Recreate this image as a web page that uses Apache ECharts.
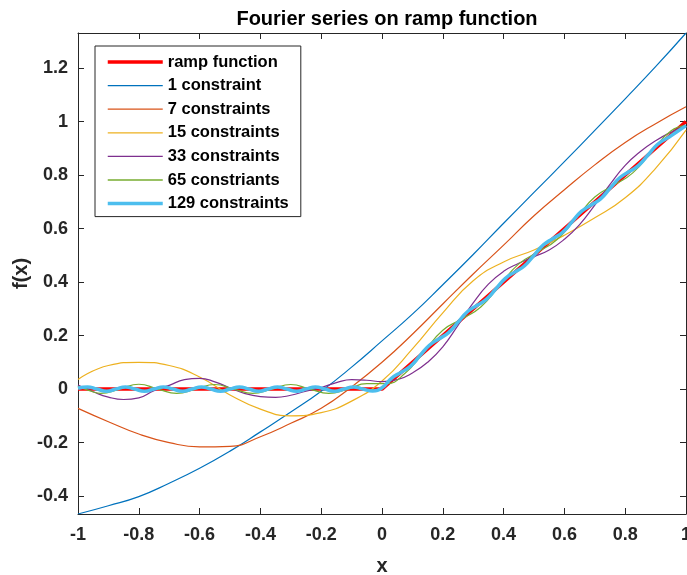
<!DOCTYPE html>
<html>
<head>
<meta charset="utf-8">
<script src="https://cdn.jsdelivr.net/npm/echarts@6/dist/echarts.min.js"></script>
<style>
html,body{margin:0;padding:0;background:#fff;}
#chart{width:687px;height:575px;}
</style>
</head>
<body>
<div id="chart"></div>
<script>
// ---- data ----
const seriesNames = ['ramp function','1 constraint','7 constraints','15 constraints','33 constraints','65 constriants','129 constraints'];

const xTicks = ['-1','-0.8','-0.6','-0.4','-0.2','0','0.2','0.4','0.6','0.8','1'];
const yTicks = ['-0.4','-0.2','0','0.2','0.4','0.6','0.8','1','1.2'];

const rampX = [-1, 0, 1];
const rampY = [0, 0, 1];

const grid10X = [-1,-0.9,-0.8,-0.7,-0.6,-0.5,-0.4,-0.3,-0.2,-0.1,0,0.1,0.2,0.3,0.4,0.5,0.6,0.7,0.8,0.9,1];
const c1Y  = [-0.467,-0.436,-0.402,-0.352,-0.296,-0.232,-0.160,-0.086,-0.008,0.082,0.18,0.28,0.39,0.503,0.62,0.735,0.85,0.967,1.085,1.205,1.331];
const c7Y  = [-0.072,-0.122,-0.168,-0.200,-0.216,-0.214,-0.178,-0.128,-0.072,0.008,0.1,0.205,0.318,0.43,0.538,0.648,0.745,0.838,0.922,0.992,1.055];
const c15Y = [0.036,0.088,0.1,0.088,0.045,-0.022,-0.075,-0.1,-0.088,-0.045,0.03,0.15,0.285,0.405,0.475,0.52,0.575,0.64,0.715,0.825,0.968];

const c33X = [-1,-0.95,-0.9,-0.85,-0.8,-0.75,-0.7,-0.65,-0.6,-0.55,-0.5,-0.45,-0.4,-0.35,-0.3,-0.25,-0.2,-0.15,-0.1,-0.05,0,0.05,0.1,0.15,0.2,0.25,0.3,0.35,0.4,0.45,0.5,0.55,0.6,0.65,0.7,0.75,0.8,0.85,0.9,0.95,1];
const c33Y = [0.015,-0.01,-0.03,-0.039,-0.033,-0.006,0.014,0.035,0.04,0.027,0.004,-0.017,-0.028,-0.031,-0.023,-0.008,0.006,0.024,0.035,0.033,0.028,0.035,0.06,0.1,0.158,0.238,0.322,0.392,0.44,0.47,0.495,0.52,0.56,0.615,0.688,0.765,0.836,0.888,0.928,0.96,0.985];

const c65X = [-1,-0.9625,-0.925,-0.8625,-0.8,-0.7375,-0.675,-0.6125,-0.55,-0.4875,-0.425,-0.3625,-0.3,-0.2375,-0.175,-0.1125,-0.05,0.0125,0.075,0.1375,0.2,0.2625,0.325,0.3875,0.45,0.5125,0.575,0.6375,0.7,0.7625,0.825,0.8875,0.95,1];
const c65Y = [0.01,-0.006,-0.016,0,0.018,0,-0.016,0,0.017,0,-0.016,0,0.017,0,-0.016,0,0.02,0.02,0.058,0.138,0.22,0.262,0.307,0.388,0.468,0.512,0.558,0.638,0.718,0.762,0.808,0.888,0.965,0.985];

const c129X = [-1,-0.969,-0.938,-0.906,-0.875,-0.844,-0.813,-0.781,-0.75,-0.719,-0.688,-0.656,-0.625,-0.594,-0.563,-0.531,-0.5,-0.469,-0.438,-0.406,-0.375,-0.344,-0.313,-0.281,-0.25,-0.219,-0.188,-0.156,-0.125,-0.094,-0.063,-0.031,0,0.031,0.063,0.094,0.125,0.156,0.188,0.219,0.25,0.281,0.313,0.344,0.375,0.406,0.438,0.469,0.5,0.531,0.563,0.594,0.625,0.656,0.688,0.719,0.75,0.781,0.813,0.844,0.875,0.906,0.938,0.969,1];
const c129Y = [0.003,0.008,0,-0.008,0,0.008,0,-0.008,0,0.008,0,-0.008,0,0.008,0,-0.008,0,0.008,0,-0.008,0,0.008,0,-0.008,0,0.008,0,-0.008,0,0.008,0,-0.007,0.005,0.04,0.063,0.086,0.125,0.164,0.188,0.211,0.25,0.289,0.313,0.336,0.375,0.414,0.438,0.461,0.5,0.539,0.563,0.586,0.625,0.664,0.688,0.711,0.75,0.789,0.813,0.836,0.875,0.914,0.938,0.961,0.985];

// ---- chart ----
const colors = ['#FF0000','#0072BD','#D95319','#EDB120','#7E2F8E','#77AC30','#4DBEEE'];
const widths = [3.5,1.2,1.2,1.2,1.2,1.2,3.5];
const xsList = [rampX, grid10X, grid10X, grid10X, c33X, c65X, c129X];
const ysList = [rampY, c1Y, c7Y, c15Y, c33Y, c65Y, c129Y];

const FONT = '"Liberation Sans", Arial, Helvetica, sans-serif';
const AX = '#262626';
const fmt = v => String(Math.round(v * 10) / 10);

function pairs(xs, ys){ return xs.map((x, i) => [x, ys[i]]); }

const series = seriesNames.map((name, i) => ({
  name: name,
  type: 'line',
  data: pairs(xsList[i], ysList[i]),
  smooth: i === 0 ? false : 0.5,
  symbol: 'none',
  showSymbol: false,
  lineStyle: { color: colors[i], width: widths[i] },
  itemStyle: { color: colors[i] },
  z: 2 + i,
  animation: false
}));

const legendData = seriesNames.map((name, i) => ({
  name: name,
  lineStyle: { color: colors[i], width: i === 0 || i === 6 ? 3.5 : 1.3 },
  itemStyle: { opacity: 0, borderWidth: 0 }
}));

const baseX = {
  type: 'value', min: -1, max: 1, interval: 0.2,
  axisLine: { show: true, onZero: false, lineStyle: { color: AX, width: 1 } },
  axisTick: { show: true, inside: true, length: 6, lineStyle: { color: AX, width: 1 } },
  splitLine: { show: false }
};
const baseY = {
  type: 'value', min: -0.467, max: 1.331, splitNumber: 9, minInterval: 0.2, maxInterval: 0.2,
  axisLine: { show: true, onZero: false, lineStyle: { color: AX, width: 1 } },
  axisTick: { show: true, inside: true, length: 6, lineStyle: { color: AX, width: 1 } },
  splitLine: { show: false }
};

const chart = echarts.init(document.getElementById('chart'), null, { renderer: 'canvas' });
chart.setOption({
  backgroundColor: '#fff',
  animation: false,
  color: colors,
  title: {
    text: 'Fourier series on ramp function',
    left: 382, top: 4, textAlign: 'center',
    textStyle: { fontFamily: FONT, fontSize: 20, fontWeight: 'bold', color: '#000' }
  },
  grid: { left: 78, top: 33, width: 608, height: 481, containLabel: false, outerBoundsMode: 'none' },
  legend: {
    data: legendData,
    orient: 'vertical', left: 95, top: 46,
    itemWidth: 55, itemHeight: 14, itemGap: 5.6,
    padding: [7, 12, 4, 11],
    backgroundColor: '#fff', borderColor: AX, borderWidth: 1, borderRadius: 0,
    selectedMode: false,
    itemStyle: { opacity: 0, borderWidth: 0 },
    textStyle: { fontFamily: FONT, fontSize: 16.5, fontWeight: 'bold', color: '#000', lineHeight: 18 }
  },
  xAxis: [
    Object.assign({}, baseX, {
      position: 'bottom',
      axisLabel: { show: true, margin: 12, color: AX, fontFamily: FONT, fontSize: 18, fontWeight: 'bold', formatter: fmt },
      name: 'x', nameLocation: 'middle', nameGap: 42, nameMoveOverlap: false,
      nameTextStyle: { fontFamily: FONT, fontSize: 20, fontWeight: 'bold', color: AX }
    }),
    Object.assign({}, baseX, { position: 'top', axisLabel: { show: false } })
  ],
  yAxis: [
    Object.assign({}, baseY, {
      position: 'left',
      axisLabel: { show: true, margin: 10, color: AX, fontFamily: FONT, fontSize: 18, fontWeight: 'bold', formatter: fmt, showMinLabel: false, showMaxLabel: false },
      name: 'f(x)', nameLocation: 'middle', nameGap: 47, nameMoveOverlap: false,
      nameTextStyle: { fontFamily: FONT, fontSize: 20, fontWeight: 'bold', color: AX }
    }),
    Object.assign({}, baseY, { position: 'right', axisLabel: { show: false } })
  ],
  series: series
});
</script>
</body>
</html>
